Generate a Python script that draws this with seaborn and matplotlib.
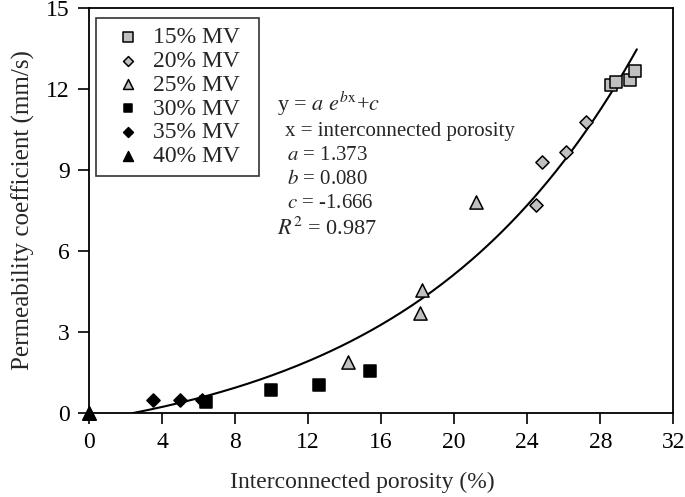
import matplotlib
matplotlib.use("Agg")
import matplotlib.pyplot as plt
import seaborn as sns
import numpy as np
import pandas as pd

mv15_x = [28.6, 28.85, 29.6, 29.9]
mv15_y = [12.15, 12.26, 12.33, 12.67]
mv20_x = [24.5, 24.8, 26.1, 27.2]
mv20_y = [7.7, 9.3, 9.67, 10.78]
mv25_x = [14.2, 18.1, 18.25, 21.2]
mv25_y = [1.9, 3.7, 4.56, 7.8]
mv30_x = [6.4, 9.95, 12.6, 15.4]
mv30_y = [0.4, 0.85, 1.04, 1.55]
mv35_x = [3.5, 5.0, 6.2]
mv35_y = [0.48, 0.48, 0.48]
mv40_x = [0.0, 0.0]
mv40_y = [0.0, 0.0]

groups = ['15% MV', '20% MV', '25% MV', '30% MV', '35% MV', '40% MV']
xs = [mv15_x, mv20_x, mv25_x, mv30_x, mv35_x, mv40_x]
ys = [mv15_y, mv20_y, mv25_y, mv30_y, mv35_y, mv40_y]

# fit parameters shown on the chart
fit_a, fit_b, fit_c = 1.373, 0.080, -1.666

rows = []
for g, gx, gy in zip(groups, xs, ys):
    for px, py in zip(gx, gy):
        rows.append({'porosity': px, 'perm': py, 'group': g})
df = pd.DataFrame(rows)

sns.set_style("ticks")
plt.rcParams['font.family'] = ['Liberation Serif', 'DejaVu Serif']
plt.rcParams['mathtext.fontset'] = 'stix'

fig = plt.figure(figsize=(6.85, 4.97), dpi=100)
ax = fig.add_axes([0.130, 0.169, 0.853, 0.815])

gray = '#c0c0c0'
palette = {'15% MV': gray, '20% MV': gray, '25% MV': gray,
           '30% MV': 'black', '35% MV': 'black', '40% MV': 'black'}
markers = {'15% MV': 's', '20% MV': 'D', '25% MV': '^',
           '30% MV': 's', '35% MV': 'D', '40% MV': '^'}
sizes = {'15% MV': 80, '20% MV': 45, '25% MV': 90,
         '30% MV': 70, '35% MV': 45, '40% MV': 90}

for g in groups:
    sub = df[df['group'] == g]
    sns.scatterplot(data=sub, x='porosity', y='perm', marker=markers[g],
                    color=palette[g], edgecolor='black', linewidth=1.1,
                    s=sizes[g], label=g + '  ', ax=ax, clip_on=False, zorder=3)

# fitted curve
xf = np.linspace(np.log(-fit_c / fit_a) / fit_b, 30.0, 200)
yf = fit_a * np.exp(fit_b * xf) + fit_c
sns.lineplot(x=xf, y=yf, color='black', linewidth=1.5, ax=ax, zorder=2)

ax.set_xlim(0, 32)
ax.set_ylim(0, 15)
ax.set_xticks(np.arange(0, 33, 4))
ax.set_yticks(np.arange(0, 16, 3))
ax.tick_params(direction='out', length=8, width=1.2, labelsize=17, colors='black', pad=6)
for sp in ax.spines.values():
    sp.set_visible(True)
    sp.set_linewidth(1.3)
    sp.set_color('black')
ax.set_xlabel('Interconnected porosity (%)', fontsize=17, labelpad=10)
ax.xaxis.set_label_coords(0.467, -0.145)
ax.set_ylabel('Permeability coefficient (mm/s)', fontsize=18, labelpad=8)

leg = ax.legend(loc='upper left', bbox_to_anchor=(0.012, 0.975), fontsize=17,
                frameon=True, fancybox=False, edgecolor='black',
                handletextpad=0.05, borderpad=0.35, labelspacing=0.1,
                handlelength=2.0, markerscale=0.75, borderaxespad=0)
leg.get_frame().set_linewidth(1.2)

ax.text(0.322, 0.745, r'y = $\it{a}$ $\it{e}^{\it{b}\mathrm{x}}$+$\it{c}$', transform=ax.transAxes, fontsize=16)
ax.text(0.335, 0.685, 'x = interconnected porosity', transform=ax.transAxes, fontsize=15)
ax.text(0.338, 0.625, r'$\it{a}$ = 1.373', transform=ax.transAxes, fontsize=15)
ax.text(0.338, 0.565, r'$\it{b}$ = 0.080', transform=ax.transAxes, fontsize=15)
ax.text(0.338, 0.505, r'$\it{c}$ = -1.666', transform=ax.transAxes, fontsize=15)
ax.text(0.322, 0.440, r'$\it{R}^2$ = 0.987', transform=ax.transAxes, fontsize=16)

fig.savefig('out.png', dpi=100)
